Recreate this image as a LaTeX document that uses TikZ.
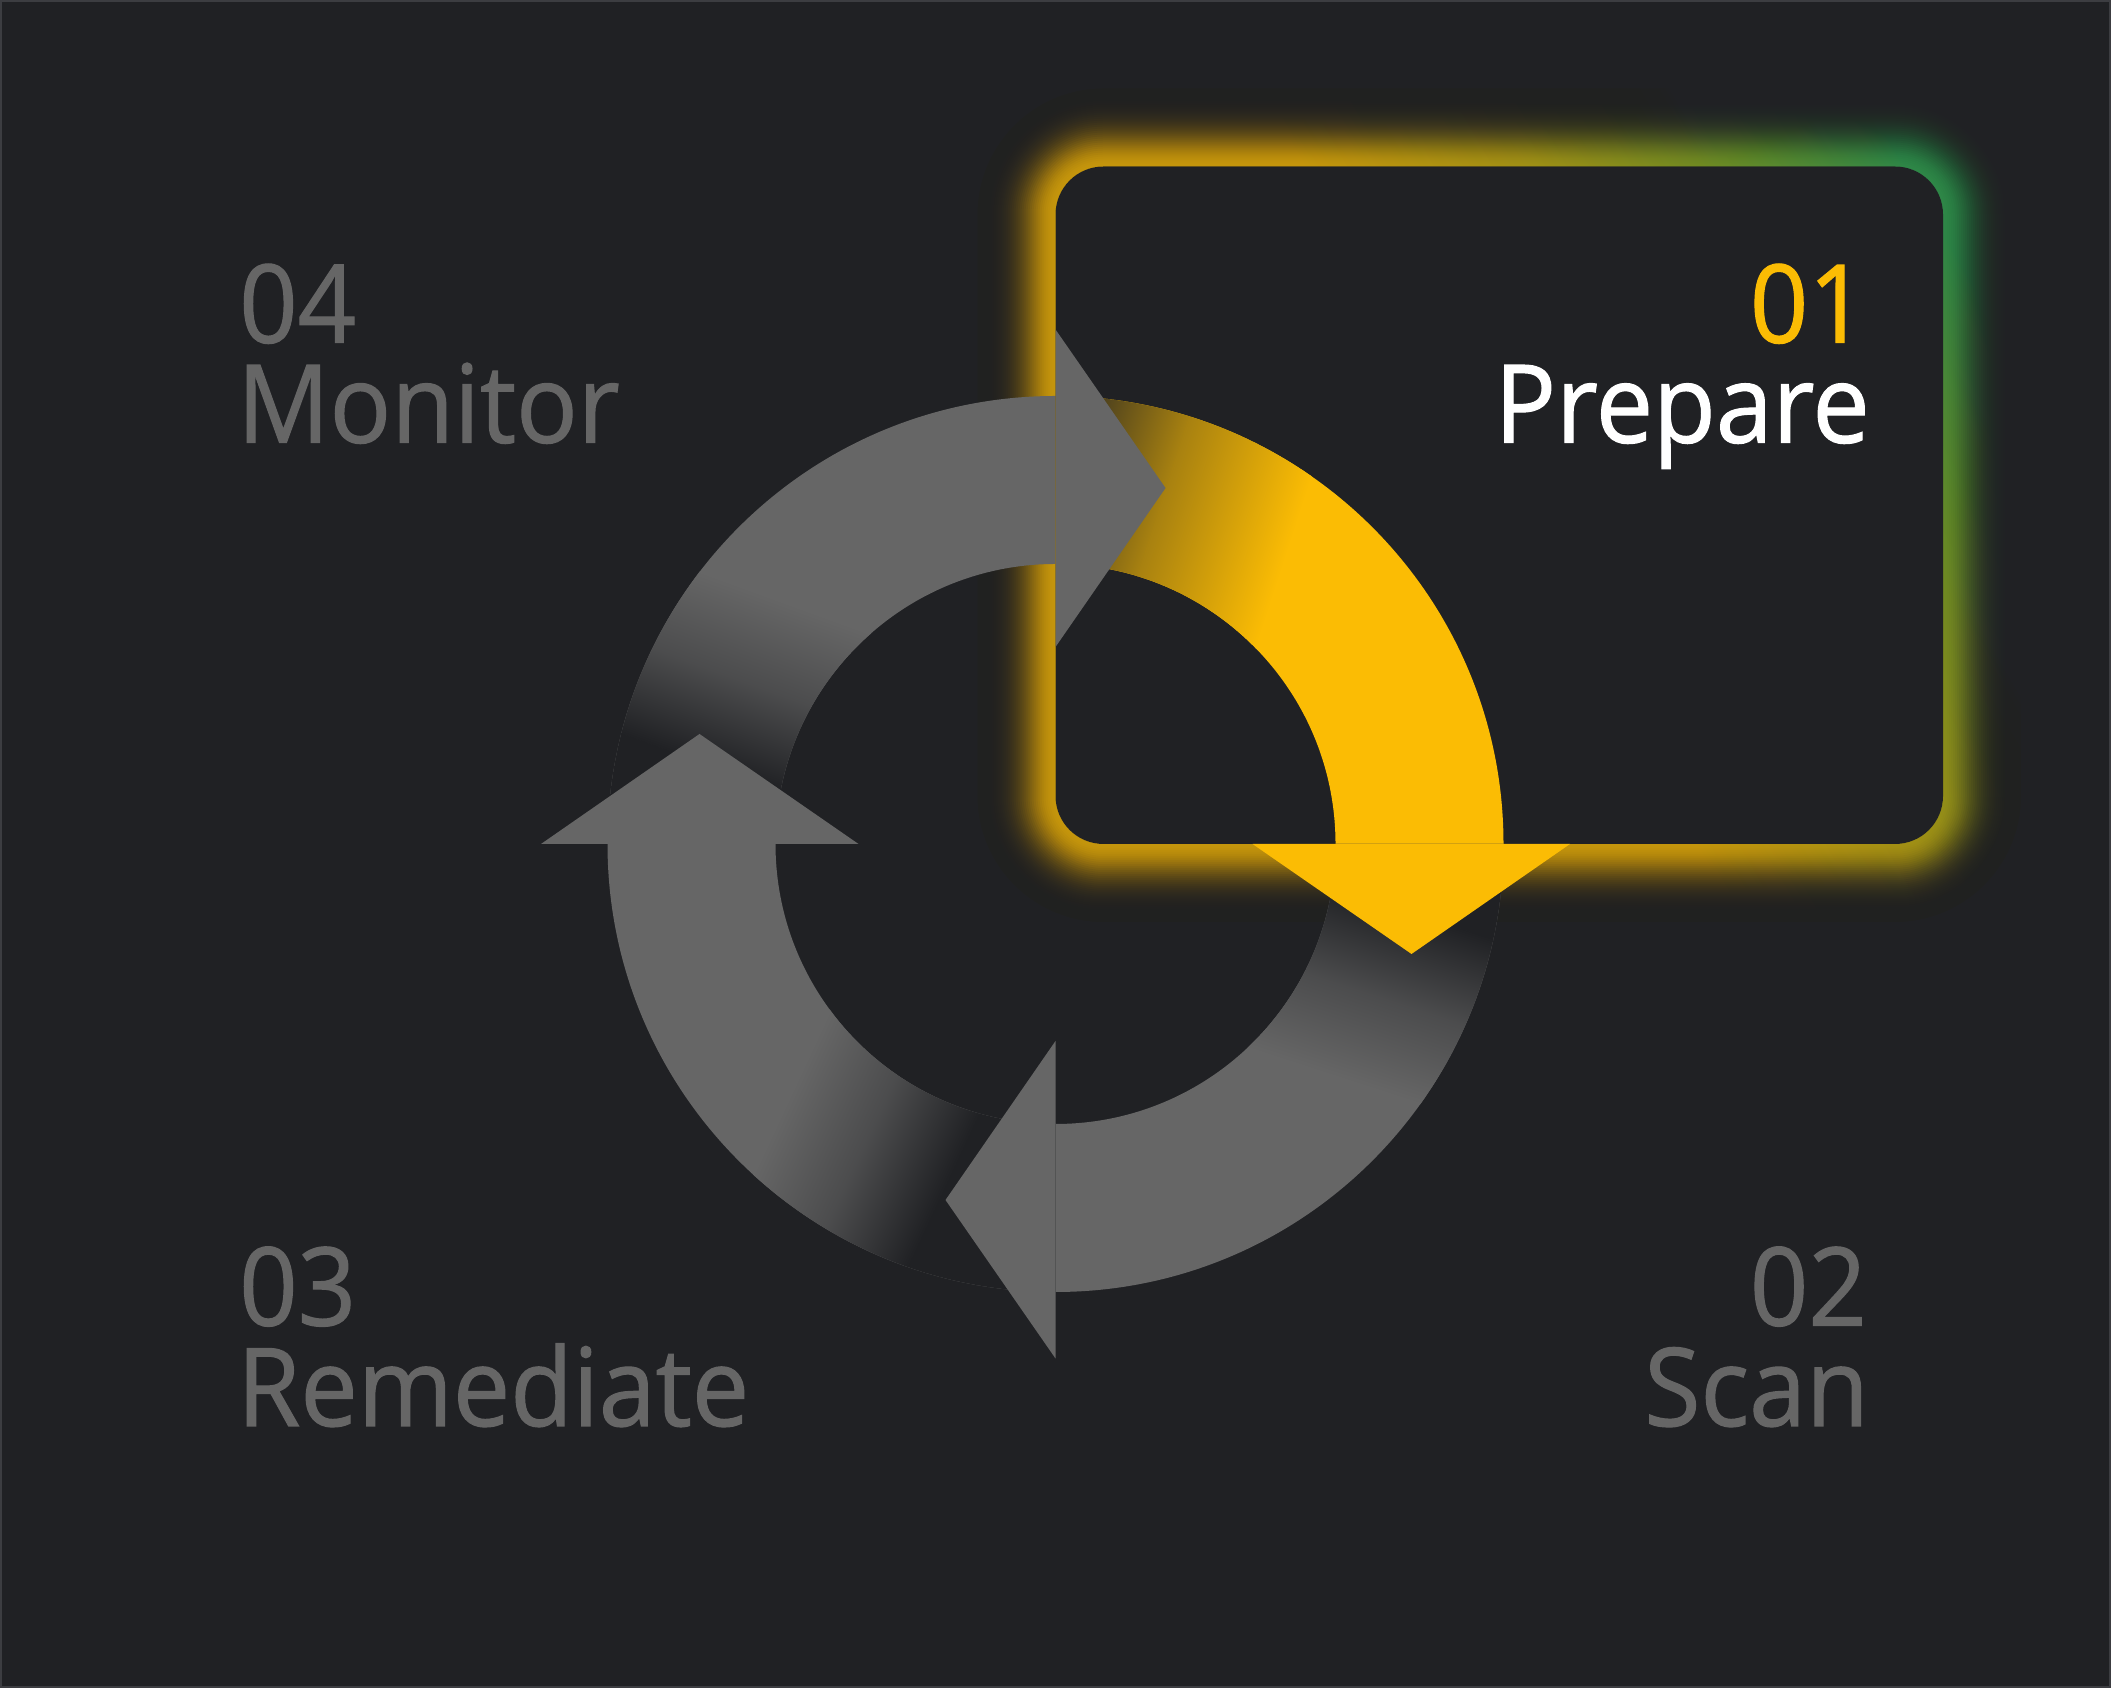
\documentclass[tikz,border=0pt]{standalone}
\usepackage{fontspec}
\setmainfont{Open Sans}[FakeStretch=0.94, FakeBold=1]
\usetikzlibrary{calc}
\definecolor{bg}{HTML}{202124}
\definecolor{ringgray}{HTML}{666666}
\definecolor{txtgray}{HTML}{666666}
\definecolor{gyellow}{HTML}{FBBC04}
\definecolor{gmid}{HTML}{C8B410}
\definecolor{golive}{HTML}{88AC22}
\definecolor{ggreen}{HTML}{34A853}
\definecolor{frame}{HTML}{3C3D41}
\def\cx{1055.5}
\def\cy{844}
\def\bx{1499.25}
\def\by{1182.75}
% #1 start angle, #2 colour, #3 gradient direction, #4 s0, #5 s1
\newcommand\ringarc[5]{%
  \pgfmathsetmacro\smid{(#4+#5)/2}%
  \begin{scope}
    \clip ($(\cx,\cy)+(#1:448)$) arc[start angle=#1, end angle=#1-90, radius=448]
      -- ($(\cx,\cy)+(#1-90:280)$) arc[start angle=#1-90, end angle=#1, radius=280] -- cycle;
    \fill[#2] (\cx-500,\cy-500) rectangle (\cx+500,\cy+500);
    \begin{scope}[transform canvas={rotate around={#3:(\cx,\cy)}}]
      \fill[bg] (\cx-700,\cy-700) rectangle (\cx+#4+0.5,\cy+700);
      \shade[left color=bg, right color=#2!62!bg] (\cx+#4,\cy-700) rectangle (\cx+\smid+0.5,\cy+700);
      \shade[left color=#2!62!bg, right color=#2] (\cx+\smid,\cy-700) rectangle (\cx+#5,\cy+700);
    \end{scope}
  \end{scope}}
\newcommand\arrowhd[3]{%
  \coordinate (#1a) at ($(\cx,\cy)+(#2:197)$);
  \coordinate (#1b) at ($(\cx,\cy)+(#2:514.5)$);
  \coordinate (#1t) at ($(\cx,\cy)+(#2:356)+(#2-90:110)$);
  \fill[#3] (#1a) -- (#1b) -- (#1t) -- cycle;}
\tikzset{
  numlabel/.style={inner sep=0pt, font=\fontsize{108.8}{108.8}\selectfont},
  wordlabel/.style={inner sep=0pt, font=\fontsize{108.8}{108.8}\selectfont}
}
\begin{document}
\begin{tikzpicture}[x=1pt,y=1pt]
\useasboundingbox (0,0) rectangle (2111,1688);
\fill[bg] (0,0) rectangle (2111,1688);

% glow colour field
\begin{scope}
  \clip[rounded corners=130pt] (\cx-82,\cy-82) rectangle (1943+82,1521.5+82);
  \begin{scope}[transform canvas={rotate around={30:(\bx,\by)}}]
    \fill[gyellow] (\bx-900,\by-900) rectangle (\bx+1,\by+900);
    \shade[left color=gyellow, right color=gmid] (\bx,\by-900) rectangle (\bx+201,\by+900);
    \shade[left color=gmid, right color=golive] (\bx+200,\by-900) rectangle (\bx+351,\by+900);
    \shade[left color=golive, right color=ggreen] (\bx+350,\by-900) rectangle (\bx+521,\by+900);
    \fill[ggreen] (\bx+520,\by-900) rectangle (\bx+900,\by+900);
  \end{scope}
\end{scope}
% glow falloff
\fill[bg, fill opacity=0.25, even odd rule] (0,0) rectangle (2111,1688)
  [rounded corners=48pt] (\cx,\cy) rectangle (1943,1521.5);
\foreach \j in {1,...,38}{
  \pgfmathsetmacro\op{1-exp(-4*(2*\j-1)/1089)}
  \pgfmathsetmacro\e{2*\j}
  \pgfmathsetmacro\rr{48+2*\j}
  \fill[bg, fill opacity=\op, even odd rule] (0,0) rectangle (2111,1688)
    [rounded corners=\rr pt] (\cx-\e,\cy-\e) rectangle (1943+\e,1521.5+\e);
}
\fill[bg, even odd rule] (0,0) rectangle (2111,1688)
  [rounded corners=126pt] (\cx-78,\cy-78) rectangle (1943+78,1521.5+78);

% card
\fill[bg, rounded corners=48pt] (\cx,\cy) rectangle (1943,1521.5);

% ring arcs
\ringarc{180}{ringgray}{70}{-45}{135}
\ringarc{90}{gyellow}{-18}{-140}{130}
\ringarc{0}{ringgray}{-108}{-45}{135}
\ringarc{270}{ringgray}{155}{-45}{135}

% arrow heads
\arrowhd{hm}{90}{ringgray}
\arrowhd{hp}{0}{gyellow}
\arrowhd{hs}{-90}{ringgray}
\arrowhd{hr}{180}{ringgray}

% labels
\node[numlabel, anchor=base west, text=txtgray] (n04) at (239,1688-342.7) {04};
\node[wordlabel, anchor=base west, text=txtgray] (w04) at (237,1688-442.7) {Monitor};
\node[numlabel, anchor=base east, text=gyellow] (n01) at (1867,1688-342.7) {01};
\node[wordlabel, anchor=base east, text=white] (w01) at (1870,1688-442.7) {Prepare};
\node[numlabel, anchor=base east, text=txtgray] (n02) at (1867,1688-1325.5) {02};
\node[wordlabel, anchor=base east, text=txtgray] (w02) at (1869,1688-1426) {Scan};
\node[numlabel, anchor=base west, text=txtgray] (n03) at (239,1688-1325.5) {03};
\node[wordlabel, anchor=base west, text=txtgray] (w03) at (237,1688-1426) {Remediate};

\draw[frame, line width=2pt] (1,1) rectangle (2110,1687);
\end{tikzpicture}
\end{document}
